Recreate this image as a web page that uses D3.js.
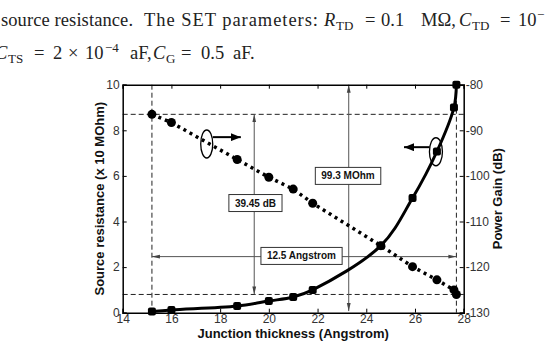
<!DOCTYPE html>
<html lang="en">
<head>
  <meta charset="UTF-8">
  <script src="https://d3js.org/d3.v7.min.js"></script>
  <style>
    body { margin: 0; background: #fff; }
    svg { display: block; }
    .caption { font-family: "Liberation Serif", "Times New Roman", serif; font-size: 18.5px; fill: #222; }
    .tick text { font-family: Arial, "Liberation Sans", sans-serif; font-size: 12px; fill: #333; }
    .axis-title { font-family: Arial, "Liberation Sans", sans-serif; font-size: 13px; font-weight: bold; fill: #111; }
    .box-label { font-family: Arial, "Liberation Sans", sans-serif; font-size: 10px; font-weight: bold; fill: #111; }
  </style>
</head>
<body>
  <div id="chart"></div>
  <script>
    const width = 545, height = 345;

    // junction thickness (Angstrom)
    const thickness = [15.2, 16.0, 18.7, 20.0, 21.0, 21.8, 24.6, 25.9, 26.9, 27.6, 27.7];
    // source resistance (x 10 MOhm)
    const resistance = [0.05, 0.12, 0.29, 0.51, 0.69, 1.0, 2.94, 5.03, 7.07, 9.0, 10.0];
    // power gain (dB)
    const gain = [-86.5, -88.3, -96.4, -100.3, -102.9, -106.0, -115.3, -119.9, -122.8, -125.0, -126.0];

    const xTicks = [14, 16, 18, 20, 22, 24, 26, 28];
    const leftTicks = [0, 2, 4, 6, 8, 10];
    const rightTicks = [-130, -120, -110, -100, -90, -80];

    const svg = d3.select("#chart").append("svg")
      .attr("width", width).attr("height", height);

    // caption text above the figure
    const cap = svg.append("g").attr("class", "caption");
    function put(txt, x, y, opts = {}) {
      const t = cap.append("text").attr("x", x).attr("y", y)
        .style("font-style", opts.italic ? "italic" : null)
        .style("font-size", opts.size ? opts.size + "px" : null)
        .text(txt);
      if (opts.len) t.attr("textLength", opts.len).attr("lengthAdjust", "spacing");
    }
    put("source resistance.", 1, 26, {len: 132});
    put("The SET parameters:", 144, 26, {len: 174});
    put("R", 324, 26, {italic: true});
    put("TD", 336, 30, {size: 13});
    put("=", 365, 26);
    put("0.1", 381, 26);
    put("M\u03A9,", 421, 26);
    put("C", 459, 26, {italic: true});
    put("TD", 472, 30, {size: 13});
    put("=", 500, 26);
    put("10", 518, 26);
    put("\u2212", 537, 19, {size: 13});

    put("C", -5, 59, {italic: true});
    put("TS", 8, 63, {size: 13});
    put("=", 34, 59);
    put("2", 53, 59);
    put("\u00D7", 68, 59);
    put("10", 85, 59);
    put("\u22124", 105, 52, {size: 13});
    put("aF,", 130, 59);
    put("C", 153, 59, {italic: true});
    put("G", 166, 63, {size: 13});
    put("=", 181, 59);
    put("0.5", 201, 59);
    put("aF.", 233, 59);

    // chart
    const x = d3.scaleLinear().domain([14, 28]).range([122.7, 463.7]);
    const yL = d3.scaleLinear().domain([0, 10]).range([312.7, 84.7]);
    const yR = d3.scaleLinear().domain([-130, -80]).range([312.7, 84.7]);

    const defs = svg.append("defs");
    defs.append("marker").attr("id", "thin")
      .attr("viewBox", "0 0 10 6").attr("refX", 10).attr("refY", 3)
      .attr("markerWidth", 8).attr("markerHeight", 5).attr("markerUnits", "userSpaceOnUse")
      .attr("orient", "auto-start-reverse")
      .append("path").attr("d", "M0,0.6L10,3L0,5.4Z").attr("fill", "#444");
    defs.append("marker").attr("id", "bold")
      .attr("viewBox", "0 0 10 8").attr("refX", 10).attr("refY", 4)
      .attr("markerWidth", 10).attr("markerHeight", 8).attr("markerUnits", "userSpaceOnUse")
      .attr("orient", "auto")
      .append("path").attr("d", "M0,0L10,4L0,8Z").attr("fill", "#000");

    // dashed guide lines
    const guides = svg.append("g").attr("stroke", "#222").attr("stroke-width", 1)
      .attr("stroke-dasharray", "5,3").attr("fill", "none");
    [thickness[0], thickness[thickness.length - 1]].forEach(t => {
      guides.append("line").attr("x1", x(t)).attr("x2", x(t)).attr("y1", yL(10)).attr("y2", yL(0));
    });
    [gain[0], gain[gain.length - 1]].forEach(g => {
      guides.append("line").attr("x1", x(14)).attr("x2", x(28)).attr("y1", yR(g)).attr("y2", yR(g));
    });

    // measurement arrows
    const arr = svg.append("g").attr("stroke", "#555").attr("stroke-width", 1).attr("fill", "none");
    arr.append("line")
      .attr("x1", x(19.4)).attr("x2", x(19.4)).attr("y1", yR(gain[0])).attr("y2", yR(gain[gain.length - 1]))
      .attr("marker-start", "url(#thin)").attr("marker-end", "url(#thin)");
    arr.append("line")
      .attr("x1", x(23.28)).attr("x2", x(23.28)).attr("y1", yL(10)).attr("y2", yL(0.07))
      .attr("marker-start", "url(#thin)").attr("marker-end", "url(#thin)");
    arr.append("line")
      .attr("x1", x(thickness[0])).attr("x2", x(thickness[thickness.length - 1]))
      .attr("y1", yL(2.46)).attr("y2", yL(2.46))
      .attr("marker-start", "url(#thin)").attr("marker-end", "url(#thin)");

    // series
    const lineR = d3.line().x((d, i) => x(thickness[i])).y(d => yL(d)).curve(d3.curveCatmullRom.alpha(0.5));
    const lineG = d3.line().x((d, i) => x(thickness[i])).y(d => yR(d));

    svg.append("path").datum(gain).attr("d", lineG)
      .attr("fill", "none").attr("stroke", "#000").attr("stroke-width", 3.5)
      .attr("stroke-dasharray", "3,4");
    svg.append("g").selectAll("circle").data(gain).join("circle")
      .attr("cx", (d, i) => x(thickness[i])).attr("cy", d => yR(d)).attr("r", 4.5).attr("fill", "#000");

    svg.append("path").datum(resistance).attr("d", lineR)
      .attr("fill", "none").attr("stroke", "#000").attr("stroke-width", 3)
      .attr("stroke-linejoin", "round");
    svg.append("g").selectAll("rect").data(resistance).join("rect")
      .attr("x", (d, i) => x(thickness[i]) - 4).attr("y", d => yL(d) - 4)
      .attr("width", 8).attr("height", 8).attr("rx", 2).attr("fill", "#000");

    // label boxes
    function box(txt, cx, cy) {
      const g = svg.append("g");
      const t = g.append("text").attr("class", "box-label").attr("x", cx).attr("y", cy)
        .attr("text-anchor", "middle").attr("dy", "0.35em").text(txt);
      const b = t.node().getBBox();
      g.insert("rect", "text").attr("x", b.x - 6).attr("y", cy - 8.5)
        .attr("width", b.width + 12).attr("height", 17)
        .attr("fill", "#fff").attr("stroke", "#333").attr("stroke-width", 1);
    }
    box("39.45 dB", x(19.45), yL(4.81));
    box("99.3 MOhm", x(23.25), yL(6.0));
    box("12.5 Angstrom", x(21.34), yL(2.49));

    // ellipses with arrows pointing to the axis each curve belongs to
    svg.append("ellipse").attr("cx", x(17.45)).attr("cy", yL(7.4)).attr("rx", 6).attr("ry", 14)
      .attr("fill", "none").attr("stroke", "#000").attr("stroke-width", 1.3);
    svg.append("line").attr("x1", x(17.7)).attr("x2", x(18.85)).attr("y1", yL(7.7)).attr("y2", yL(7.7))
      .attr("stroke", "#000").attr("stroke-width", 2).attr("marker-end", "url(#bold)");
    svg.append("ellipse").attr("cx", x(26.86)).attr("cy", yL(7.06)).attr("rx", 6.5).attr("ry", 14)
      .attr("fill", "none").attr("stroke", "#000").attr("stroke-width", 1.3);
    svg.append("line").attr("x1", x(26.6)).attr("x2", x(25.55)).attr("y1", yL(7.26)).attr("y2", yL(7.26))
      .attr("stroke", "#000").attr("stroke-width", 2).attr("marker-end", "url(#bold)");

    // axes
    const fmt = d => String(d);
    svg.append("g").attr("transform", `translate(0,${yL(0)})`)
      .call(d3.axisBottom(x).tickValues(xTicks).tickSize(-4).tickPadding(2).tickFormat(fmt));
    svg.append("g").attr("transform", `translate(0,${yL(10)})`)
      .call(d3.axisTop(x).tickValues(xTicks).tickSize(-4).tickFormat(""));
    svg.append("g").attr("transform", `translate(${x(14)},0)`)
      .call(d3.axisLeft(yL).tickValues(leftTicks).tickSize(-4).tickPadding(3).tickFormat(fmt));
    svg.append("g").attr("transform", `translate(${x(28)},0)`)
      .call(d3.axisRight(yR).tickValues(rightTicks).tickSize(-4).tickPadding(2).tickFormat(fmt));
    svg.selectAll(".domain").attr("stroke", "#000").attr("stroke-width", 1.5);
    svg.selectAll(".tick line").attr("stroke", "#000");

    svg.append("text").attr("class", "axis-title").attr("text-anchor", "middle")
      .attr("x", (x(14) + x(28)) / 2).attr("y", 338).text("Junction thickness (Angstrom)");
    svg.append("text").attr("class", "axis-title").attr("text-anchor", "middle")
      .attr("transform", `translate(104,${(yL(0) + yL(10)) / 2}) rotate(-90)`)
      .text("Source resistance (x 10 MOhm)");
    svg.append("text").attr("class", "axis-title").attr("text-anchor", "middle")
      .attr("transform", `translate(502,${(yL(0) + yL(10)) / 2}) rotate(-90)`)
      .text("Power Gain (dB)");
  </script>
</body>
</html>
